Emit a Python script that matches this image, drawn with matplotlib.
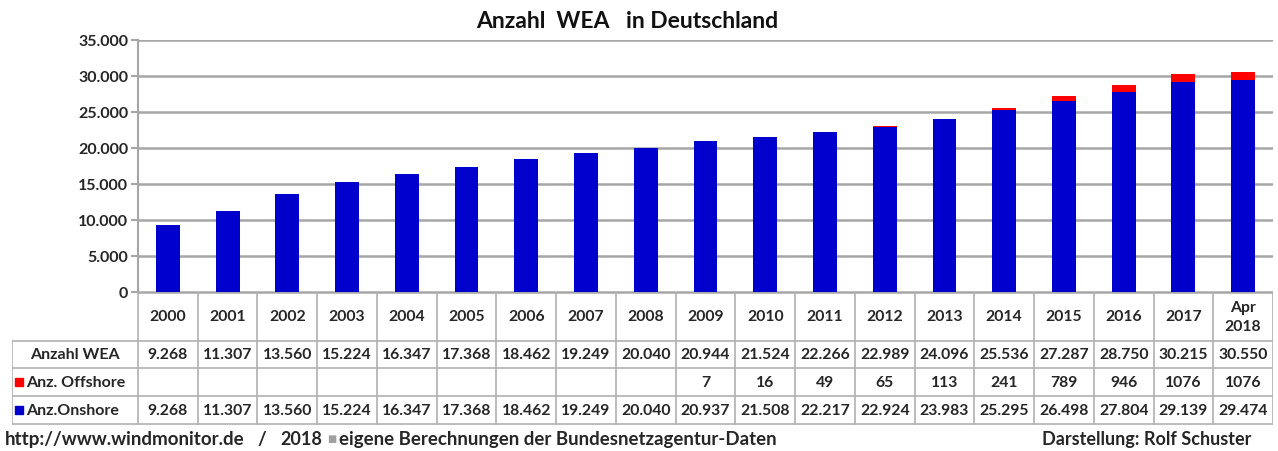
import matplotlib.pyplot as plt
from matplotlib.ticker import FuncFormatter

plt.rcParams['font.family'] = ['Lato', 'DejaVu Sans']

# Daten
jahre = ['2000', '2001', '2002', '2003', '2004', '2005', '2006', '2007', '2008', '2009',
         '2010', '2011', '2012', '2013', '2014', '2015', '2016', '2017', 'Apr\n2018']
onshore = [9268, 11307, 13560, 15224, 16347, 17368, 18462, 19249, 20040, 20937,
           21508, 22217, 22924, 23983, 25295, 26498, 27804, 29139, 29474]
offshore = [0, 0, 0, 0, 0, 0, 0, 0, 0, 7,
            16, 49, 65, 113, 241, 789, 946, 1076, 1076]
gesamt = [a + b for a, b in zip(onshore, offshore)]

blau = '#0000CC'
rot = '#FF0000'
grau = '#A6A6A6'
txt = '#262626'

W, H = 1278, 452
fig = plt.figure(figsize=(W / 100, H / 100), dpi=100)


def px(x0, y0, x1, y1):
    return [x0 / W, 1 - y1 / H, (x1 - x0) / W, (y1 - y0) / H]


def de(v):
    return f'{v:,}'.replace(',', '.')


# Balken
ax = fig.add_axes(px(138, 41, 1273, 293))
x = range(len(jahre))
ax.bar(x, onshore, width=0.4, color=blau, zorder=3)
ax.bar(x, offshore, width=0.4, bottom=onshore, color=rot, zorder=3)
ax.set_xlim(-0.5, len(jahre) - 0.5)
ax.set_ylim(0, 35000)
ax.set_yticks(range(0, 35001, 5000))
ax.yaxis.set_major_formatter(FuncFormatter(lambda v, p: de(int(v))))
ax.grid(axis='y', color=grau, lw=1.8, zorder=0)
ax.set_xticks([])
for s in ['top', 'right', 'bottom']:
    ax.spines[s].set_visible(False)
ax.spines['left'].set_color(grau)
ax.spines['left'].set_linewidth(1.5)
ax.tick_params(axis='y', length=5, color=grau, width=1.5, labelsize=11.5,
               labelcolor=txt, pad=2)
for lb in ax.get_yticklabels():
    lb.set_fontweight('bold')

fig.text(627 / W, 1 - 21 / H, 'Anzahl  WEA   in Deutschland', ha='center', va='center',
         fontsize=16.5, fontweight='bold', color='#111111')

# Tabelle
colw = (1273 - 138) / len(jahre)
left = -0.5 - (138 - 12) / colw
tx = fig.add_axes(px(12, 293, 1273, 426))
tx.set_xlim(left, len(jahre) - 0.5)
tx.set_ylim(133, 0)
tx.axis('off')
rows = [0, 49, 76, 104, 132]
lc = '#B0B0B0'
# horizontale Linien
tx.plot([-0.5, len(jahre) - 0.5], [rows[0], rows[0]], color=grau, lw=1.8)
for r in rows[1:]:
    tx.plot([left, len(jahre) - 0.5], [r, r], color=lc, lw=1.2)
# vertikale Linien
for i in range(len(jahre) + 1):
    tx.plot([i - 0.5, i - 0.5], [rows[0], rows[-1]], color=lc, lw=1.2)
tx.plot([left, left], [rows[1], rows[-1]], color=lc, lw=1.2)

fs = 11.3
for i, j in enumerate(jahre):
    tx.text(i, (rows[0] + rows[1]) / 2, j, ha='center', va='center', fontsize=fs,
            fontweight='bold', color=txt, linespacing=1.45)
    tx.text(i, (rows[1] + rows[2]) / 2, de(gesamt[i]), ha='center', va='center',
            fontsize=fs, fontweight='bold', color=txt)
    if offshore[i]:
        tx.text(i, (rows[2] + rows[3]) / 2, str(offshore[i]), ha='center', va='center',
                fontsize=fs, fontweight='bold', color=txt)
    tx.text(i, (rows[3] + rows[4]) / 2, de(onshore[i]), ha='center', va='center',
            fontsize=fs, fontweight='bold', color=txt)

mid_lab = (left - 0.5) / 2
tx.text(mid_lab, (rows[1] + rows[2]) / 2, 'Anzahl WEA', ha='center', va='center',
        fontsize=11.5, fontweight='bold', color=txt)
kx = left + 0.12
for (r0, r1), lab, c in [((rows[2], rows[3]), 'Anz. Offshore', rot),
                         ((rows[3], rows[4]), 'Anz.Onshore', blau)]:
    ym = (r0 + r1) / 2
    tx.plot([kx], [ym], marker='s', ms=6, color=c, ls='none')
    tx.text(kx + 0.11, ym, lab, ha='left', va='center', fontsize=11.5,
            fontweight='bold', color=txt)

# Fusszeile
fy = 1 - 440 / H
fig.text(5 / W, fy, 'http://www.windmonitor.de', ha='left', va='center',
         fontsize=13.5, fontweight='bold', color=txt)
fig.text(257 / W, fy, '/', ha='left', va='center', fontsize=13.5,
         fontweight='bold', color=txt)
fig.text(280 / W, fy, '2018', ha='left', va='center', fontsize=13,
         fontweight='bold', color=txt)
fig.text(327 / W, fy, '\u25a0', ha='left', va='center', fontsize=7,
         color='#A0A0A0')
fig.text(339 / W, fy, 'eigene Berechnungen der Bundesnetzagentur-Daten',
         ha='left', va='center', fontsize=13.4, fontweight='bold', color=txt)
fig.text(1251 / W, fy, 'Darstellung: Rolf Schuster', ha='right', va='center',
         fontsize=13, fontweight='bold', color=txt)

fig.savefig('out.png', dpi=100, facecolor='white')
